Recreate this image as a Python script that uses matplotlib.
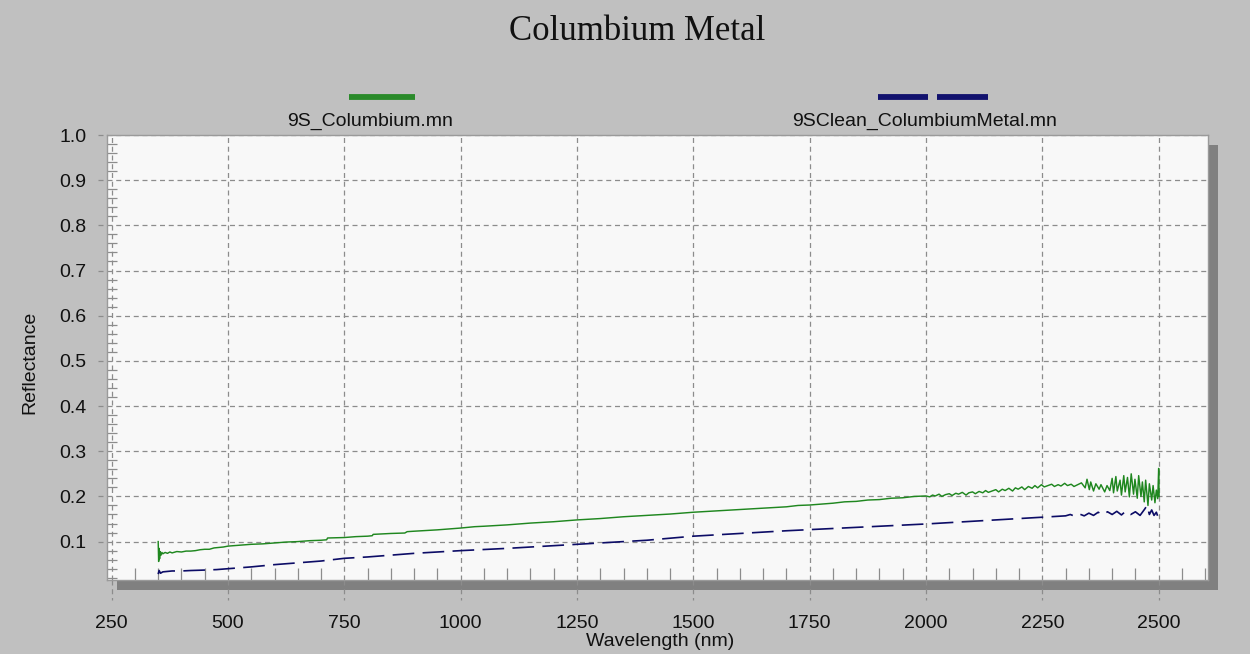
import matplotlib
matplotlib.use("Agg")
import matplotlib.pyplot as plt
from matplotlib.lines import Line2D
from matplotlib.patches import Rectangle
from matplotlib.ticker import MultipleLocator

# ---------------- data ----------------
title = "Columbium Metal"
series_names = ["9S_Columbium.mn", "9SClean_ColumbiumMetal.mn"]
x_label = "Wavelength (nm)"
y_label = "Reflectance"
x_ticks = [250, 500, 750, 1000, 1250, 1500, 1750, 2000, 2250, 2500]
y_ticks = [0.1, 0.2, 0.3, 0.4, 0.5, 0.6, 0.7, 0.8, 0.9, 1.0]

green_wl = [350, 351, 352, 353, 354, 356, 358, 360, 365, 370, 375, 380, 390, 400,
            410, 420, 430, 440, 450, 460, 470, 480, 490, 500, 525, 550, 575, 600,
            625, 650, 675, 700, 712, 714, 750, 775, 800, 810, 812, 850, 880, 885,
            900, 950, 1000, 1030, 1050, 1100, 1150, 1200, 1250, 1300, 1350, 1400,
            1450, 1500, 1550, 1600, 1650, 1700, 1725, 1750, 1775, 1800, 1825, 1850,
            1875, 1900, 1925, 1950, 1975, 2000,
            2008, 2014, 2020, 2028, 2034, 2042, 2050, 2056, 2064, 2070, 2078, 2086,
            2092, 2100, 2106, 2114, 2122, 2128, 2134, 2142, 2150, 2156, 2164, 2170,
            2178, 2186, 2192, 2198, 2206, 2212, 2220, 2228, 2234, 2240, 2248, 2254,
            2262, 2270, 2276, 2284, 2290, 2298, 2304, 2312, 2318, 2326, 2334,
            2342, 2346, 2351, 2354, 2360, 2365, 2372, 2376, 2384, 2389, 2395, 2400,
            2403, 2408, 2411, 2417, 2420, 2425, 2428, 2433, 2437, 2441, 2446, 2449,
            2454, 2457, 2462, 2465, 2469, 2472, 2477, 2480, 2485, 2488, 2492, 2495,
            2498, 2500, 2501]
green_val = [0.100, 0.056, 0.085, 0.062, 0.078, 0.070, 0.076, 0.073, 0.076, 0.074,
             0.077, 0.075, 0.078, 0.077, 0.079, 0.079, 0.080, 0.082, 0.083, 0.083,
             0.086, 0.087, 0.088, 0.090, 0.092, 0.094, 0.095, 0.097, 0.099, 0.100,
             0.102, 0.103, 0.104, 0.108, 0.109, 0.111, 0.112, 0.113, 0.116, 0.118,
             0.119, 0.122, 0.123, 0.126, 0.130, 0.133, 0.134, 0.137, 0.141, 0.144,
             0.148, 0.151, 0.155, 0.158, 0.161, 0.165, 0.168, 0.171, 0.174, 0.177,
             0.180, 0.181, 0.183, 0.185, 0.188, 0.189, 0.192, 0.193, 0.196, 0.197,
             0.200, 0.201,
             0.199, 0.203, 0.201, 0.205, 0.200, 0.204, 0.206, 0.202, 0.207, 0.205,
             0.209, 0.203, 0.208, 0.210, 0.206, 0.211, 0.208, 0.213, 0.209, 0.212,
             0.215, 0.210, 0.216, 0.213, 0.218, 0.212, 0.219, 0.216, 0.221, 0.215,
             0.222, 0.218, 0.224, 0.219, 0.226, 0.221, 0.224, 0.227, 0.222, 0.226,
             0.223, 0.229, 0.224, 0.227, 0.222, 0.226, 0.230,
             0.219, 0.238, 0.215, 0.232, 0.212, 0.228, 0.216, 0.226, 0.210, 0.224,
             0.213, 0.240, 0.208, 0.244, 0.212, 0.236, 0.203, 0.246, 0.210, 0.242,
             0.199, 0.250, 0.205, 0.238, 0.196, 0.246, 0.200, 0.232, 0.188, 0.236,
             0.180, 0.228, 0.192, 0.224, 0.186, 0.214, 0.195, 0.262, 0.200]

blue_wl = [350, 352, 355, 360, 380, 400, 420, 450, 475, 500, 550, 600, 650, 700,
           750, 800, 850, 900, 950, 1000, 1100, 1200, 1300, 1400, 1500, 1600, 1700,
           1800, 1900, 2000, 2050, 2100, 2150, 2200, 2250, 2300,
           2310, 2320, 2330, 2340, 2350, 2360, 2370, 2380, 2390, 2400, 2410, 2420,
           2430, 2440, 2450, 2460, 2470, 2475, 2480, 2485, 2490, 2495, 2500]
blue_val = [0.028, 0.036, 0.030, 0.033, 0.035, 0.035, 0.036, 0.037, 0.038, 0.040,
            0.044, 0.049, 0.053, 0.057, 0.063, 0.066, 0.070, 0.074, 0.077, 0.080,
            0.085, 0.091, 0.097, 0.103, 0.112, 0.118, 0.124, 0.129, 0.134, 0.139,
            0.142, 0.145, 0.148, 0.151, 0.154, 0.157,
            0.160, 0.156, 0.161, 0.157, 0.163, 0.158, 0.165, 0.159, 0.166, 0.160,
            0.167, 0.159, 0.168, 0.160, 0.166, 0.158, 0.172, 0.180, 0.160, 0.170,
            0.158, 0.165, 0.150]

# ---------------- styling ----------------
W, H = 1250, 654
BG = "#c0c0c0"
PLOT_BG = "#f8f8f8"
SHADOW = "#808080"
GRID = "#8c8c8c"
GREEN = "#1f871f"
NAVY = "#0c0c66"

fig = plt.figure(figsize=(W / 100, H / 100), dpi=100, facecolor=BG)

# axes placement in pixels
L, R, T, B = 107, 1208, 135, 580
ax = fig.add_axes([L / W, 1 - B / H, (R - L) / W, (B - T) / H])
ax.set_facecolor(PLOT_BG)

# drop shadow
fig.patches.append(Rectangle(((L + 10) / W, 1 - (B + 10) / H), (R - L) / W, (B - T) / H,
                             transform=fig.transFigure, facecolor=SHADOW,
                             edgecolor="none", zorder=-1))

ax.plot(green_wl, green_val, color=GREEN, lw=1.05, zorder=3)
ax.plot(blue_wl, blue_val, color=NAVY, lw=1.2, linestyle=(0, (13, 5)), zorder=3)

ax.set_xlim(240, 2606)
ax.set_ylim(0.015, 1.0)
ax.set_xticks(x_ticks)
ax.set_yticks(y_ticks)
ax.xaxis.set_minor_locator(MultipleLocator(50))
ax.yaxis.set_minor_locator(MultipleLocator(0.02))

ax.grid(True, which="major", color=GRID, linestyle=(0, (4, 3)), lw=0.9)

tick_font = dict(family="Liberation Sans", size=14)
ax.set_xticklabels([str(v) for v in x_ticks], **tick_font)
ax.set_yticklabels([f"{v:.1f}" for v in y_ticks], **tick_font)
ax.tick_params(axis="both", which="major", length=0, colors="#111111")
ax.tick_params(axis="x", which="major", pad=25)
ax.tick_params(axis="y", which="major", pad=15)
ax.tick_params(axis="x", which="minor", direction="in", length=9, width=0.9, color=GRID)
ax.tick_params(axis="y", which="minor", direction="in", length=7, width=0.9, color=GRID)

# dashed extensions of grid lines outside the plot
xt = ax.get_xaxis_transform()
for v in x_ticks:
    ax.plot([v, v], [0, -0.045], transform=xt, color=GRID, lw=0.9,
            linestyle=(0, (4, 3)), clip_on=False, zorder=1)
yt = ax.get_yaxis_transform()
for v in y_ticks:
    ax.plot([-0.008, 0], [v, v], transform=yt, color=GRID, lw=0.9,
            linestyle=(0, (4, 3)), clip_on=False, zorder=1)

for s in ax.spines.values():
    s.set_color("#9a9a9a")
    s.set_linewidth(1.0)

# title
fig.text(637 / W, 1 - 31 / H, title, ha="center", va="center",
         family="Liberation Serif", size=25, color="#111111")

# legend (handles above labels)
fig.add_artist(Line2D([349 / W, 415 / W], [1 - 97 / H, 1 - 97 / H],
                      transform=fig.transFigure, color="#2a8a2a", lw=4.2,
                      solid_capstyle="butt"))
fig.add_artist(Line2D([878 / W, 928 / W], [1 - 97 / H, 1 - 97 / H],
                      transform=fig.transFigure, color="#12126e", lw=4.2,
                      solid_capstyle="butt"))
fig.add_artist(Line2D([937 / W, 988 / W], [1 - 97 / H, 1 - 97 / H],
                      transform=fig.transFigure, color="#12126e", lw=4.2,
                      solid_capstyle="butt"))
fig.text(370 / W, 1 - 121 / H, series_names[0], ha="center", va="center",
         family="Liberation Sans", size=14, color="#111111")
fig.text(925 / W, 1 - 121 / H, series_names[1], ha="center", va="center",
         family="Liberation Sans", size=14, color="#111111")

# axis labels
fig.text(30 / W, 1 - 362 / H, y_label, rotation=90, ha="center", va="center",
         family="Liberation Sans", size=14, color="#111111")
fig.text(660 / W, 1 - 642 / H, x_label, ha="center", va="center",
         family="Liberation Sans", size=14, color="#111111")

fig.savefig("out.png", dpi=100, facecolor=BG)
